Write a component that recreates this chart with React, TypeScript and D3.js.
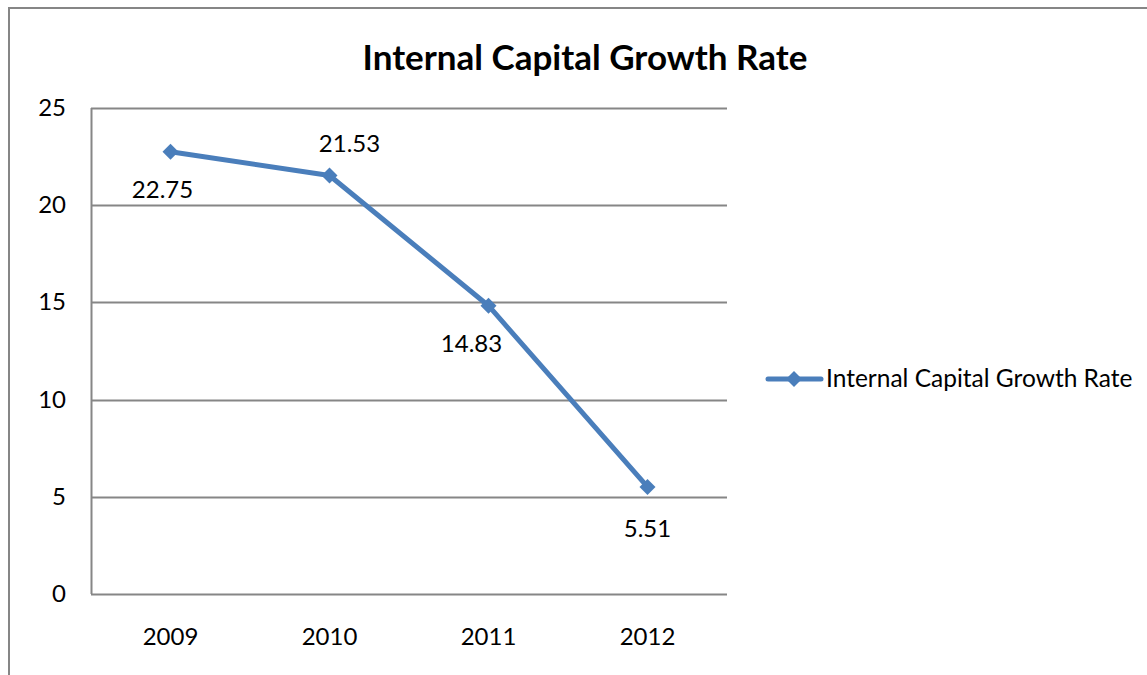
import React from 'react';
import * as d3 from 'd3';

// chart data
const years = ['2009', '2010', '2011', '2012'];
const growthRate = [22.75, 21.53, 14.83, 5.51];
const yTicks = [0, 5, 10, 15, 20, 25];
const seriesName = 'Internal Capital Growth Rate';
const chartTitle = 'Internal Capital Growth Rate';

// manual label nudges (Excel labels were dragged around)
const labelOffsets = [
  { dx: -8, dy: 46 },
  { dx: 20, dy: -23 },
  { dx: -17, dy: 46 },
  { dx: 0, dy: 50 },
];

const WIDTH = 1147;
const HEIGHT = 675;
const FONT = 'Lato, "Open Sans", sans-serif';
const BLUE = '#4a7ebb';
const GRID = '#868686';

const plot = { left: 91, right: 727, top: 108, bottom: 594 };

const Diamond: React.FC<{ x: number; y: number; r: number }> = ({ x, y, r }) => (
  <path d={`M${x},${y - r}L${x + r},${y}L${x},${y + r}L${x - r},${y}Z`} fill={BLUE} />
);

export default function App() {
  const xScale = d3.scaleBand<string>().domain(years).range([plot.left, plot.right]).padding(0);
  const yScale = d3.scaleLinear().domain([0, 25]).range([plot.bottom, plot.top]);
  const cx = (yr: string) => (xScale(yr) ?? 0) + xScale.bandwidth() / 2;

  const line = d3
    .line<number>()
    .x((_, i) => cx(years[i]))
    .y((d) => yScale(d));

  return (
    <svg
      width={WIDTH}
      height={HEIGHT}
      style={{ position: 'absolute', left: 0, top: 0, background: '#fff' }}
      fontFamily={FONT}
    >
      {/* outer chart border */}
      <rect x={9} y={8} width={WIDTH} height={HEIGHT} fill="#fff" stroke={GRID} strokeWidth={2} />

      <text x={585} y={70} textAnchor="middle" fontSize={35} fontWeight="bold" fill="#000">
        {chartTitle}
      </text>

      {/* gridlines */}
      {yTicks.map((t) => (
        <line
          key={t}
          x1={plot.left}
          x2={plot.right}
          y1={Math.round(yScale(t)) + 0.5}
          y2={Math.round(yScale(t)) + 0.5}
          stroke={GRID}
          strokeWidth={2}
        />
      ))}
      <line x1={plot.left + 0.5} x2={plot.left + 0.5} y1={plot.top} y2={plot.bottom} stroke={GRID} strokeWidth={2} />

      {/* y tick labels */}
      {yTicks.map((t) => (
        <text key={t} x={66} y={yScale(t) + 8} textAnchor="end" fontSize={24} fill="#000">
          {t}
        </text>
      ))}

      {/* x tick labels */}
      {years.map((yr) => (
        <text key={yr} x={cx(yr)} y={645} textAnchor="middle" fontSize={24} fill="#000">
          {yr}
        </text>
      ))}

      {/* series */}
      <path d={line(growthRate) ?? ''} fill="none" stroke={BLUE} strokeWidth={5} strokeLinejoin="round" />
      {growthRate.map((v, i) => (
        <Diamond key={years[i]} x={cx(years[i])} y={yScale(v)} r={8} />
      ))}
      {growthRate.map((v, i) => (
        <text
          key={years[i]}
          x={cx(years[i]) + labelOffsets[i].dx}
          y={yScale(v) + labelOffsets[i].dy}
          textAnchor="middle"
          fontSize={24}
          fill="#000"
        >
          {v.toFixed(2)}
        </text>
      ))}

      {/* legend */}
      <line x1={768} x2={821} y1={379} y2={379} stroke={BLUE} strokeWidth={5} strokeLinecap="round" />
      <Diamond x={794} y={379} r={8} />
      <text x={826} y={387} fontSize={24.5} fill="#000">
        {seriesName}
      </text>
    </svg>
  );
}
